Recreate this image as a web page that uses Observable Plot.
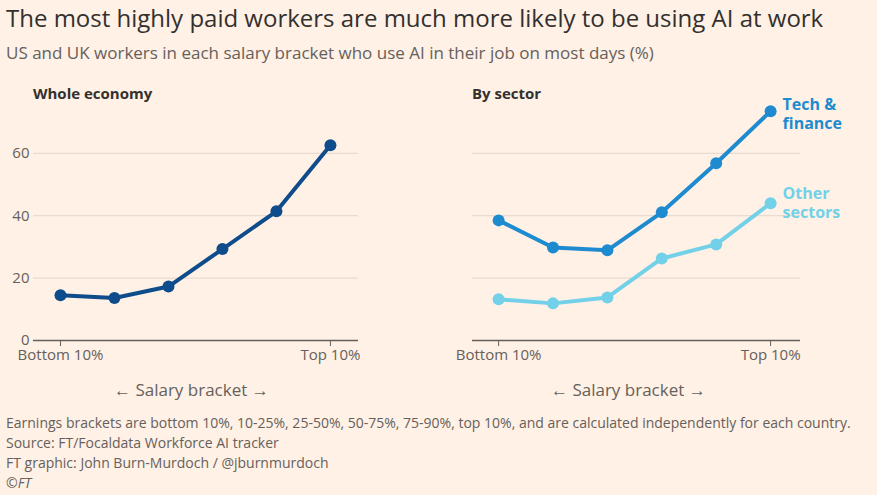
<!DOCTYPE html>
<html><head><meta charset="utf-8">
<script src="https://cdn.jsdelivr.net/npm/d3@7"></script>
<script src="https://cdn.jsdelivr.net/npm/@observablehq/plot@0.6"></script>
<style>
body{margin:0;background:#FFF1E5;font-family:"Open Sans",sans-serif;color:#33302E;width:877px;height:495px;position:relative;overflow:hidden}
.t{position:absolute;white-space:nowrap}
</style></head><body>
<div class="t" style="left:6px;top:1px;font-size:24px;color:#33302E">The most highly paid workers are much more likely to be using AI at work</div>
<div class="t" style="left:6px;top:41px;font-size:17px;color:#66605C">US and UK workers in each salary bracket who use AI in their job on most days (%)</div>
<div class="t" style="left:33px;top:83px;font-size:15px;font-weight:bold">Whole economy</div>
<div class="t" style="left:472px;top:83px;font-size:15px;font-weight:bold">By sector</div>
<div id="left" class="t" style="left:0;top:100px"></div>
<div id="right" class="t" style="left:438px;top:100px"></div>
<div class="t" style="left:114px;top:378px;font-size:17px;color:#66605C">← Salary bracket →</div>
<div class="t" style="left:551px;top:378px;font-size:17px;color:#66605C">← Salary bracket →</div>
<div class="t" style="left:6px;top:413px;font-size:14px;line-height:20px;color:#66605C">Earnings brackets are bottom 10%, 10-25%, 25-50%, 50-75%, 75-90%, top 10%, and are calculated independently for each country.<br>Source: FT/Focaldata Workforce AI tracker<br>FT graphic: John Burn-Murdoch / @jburnmurdoch<br><i>©FT</i></div>
<script>
const brackets = ["Bottom 10%","10-25%","25-50%","50-75%","75-90%","Top 10%"];
const whole = [14.5, 13.6, 17.3, 29.3, 41.4, 62.6];
const tech = [38.5, 29.8, 28.9, 41.1, 56.8, 73.5];
const other = [13.2, 11.9, 13.8, 26.3, 30.8, 44.0];

function panel(series, xdom, ml, mr, showY, labels) {
  const marks = [
    Plot.gridY([20,40,60], {stroke:"#E3D6CB", strokeOpacity:1}),
    Plot.ruleY([0], {stroke:"#66605C", strokeWidth:1.5}),
    Plot.axisX([0,5], {tickFormat:i=>brackets[i], tickSize:6, stroke:"#66605C", fontSize:15, fill:"#66605C", tickPadding:3, label:null}),
  ];
  if (showY) marks.push(Plot.axisY([0,20,40,60], {tickSize:0, tickPadding:4, fontSize:15, fill:"#66605C", label:null}));
  for (const s of series) {
    const d = s.v.map((v,i)=>({i, v}));
    marks.push(Plot.line(d, {x:"i", y:"v", stroke:s.c, strokeWidth:4}));
    marks.push(Plot.dot(d, {x:"i", y:"v", fill:s.c, r:6}));
  }
  if (labels) marks.push(Plot.text(labels, {x:()=>5, y:"y", text:"t", fill:"c", dx:12, textAnchor:"start", lineAnchor:"top", fontSize:16, fontWeight:"bold", lineHeight:1.15}));
  return Plot.plot({
    width:438, height:300, marginTop:6, marginBottom:60, marginLeft:ml, marginRight:mr,
    style:{background:"transparent", fontFamily:"Open Sans", fontSize:"15px", overflow:"visible"},
    x:{domain:xdom, axis:null}, y:{domain:[0,75], axis:null},
    color:{type:"identity"},
    marks
  });
}
document.getElementById("left").append(panel([{v:whole,c:"#0F4C8B"}], [-0.5,5.52], 33, 80, true));
document.getElementById("right").append(panel([{v:other,c:"#72D1E8"},{v:tech,c:"#1E8BD0"}], [-0.48,5.55], 34, 76, false,
  [{t:"Tech &\nfinance", y:78, c:"#1E8BD0"},{t:"Other\nsectors", y:49.5, c:"#72D1E8"}]));
</script>
</body></html>
